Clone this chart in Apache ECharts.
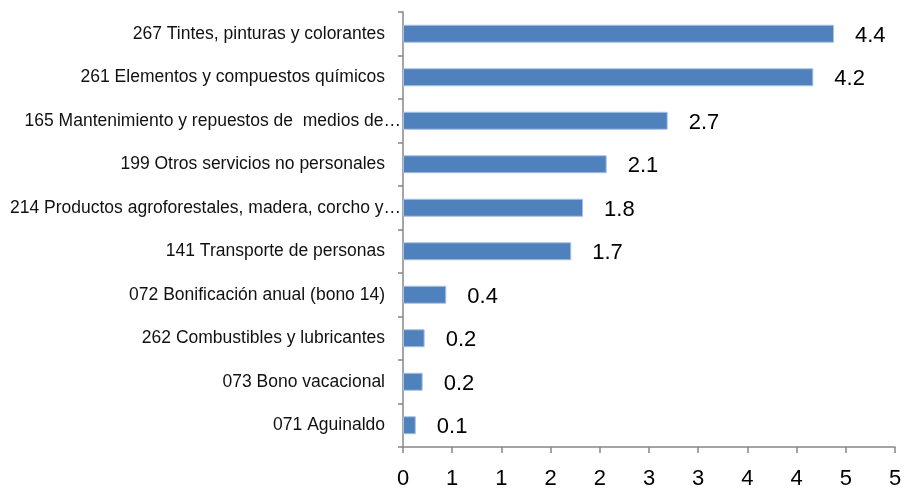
<!DOCTYPE html>
<html lang="es">
<head>
    <meta charset="UTF-8"/>
    <script src="https://cdn.jsdelivr.net/npm/echarts@6/dist/echarts.min.js"></script>
    <title>Renglones</title>
    <style>
        html, body { margin: 0; padding: 0; background: #fff; }
    </style>
</head>
<body>
<div id="main" style="width:904px; height:489px;"></div>
<script type="text/javascript">
    // categorias (de arriba hacia abajo)
    var categories = [
        '267 Tintes, pinturas y colorantes',
        '261 Elementos y compuestos químicos',
        '165 Mantenimiento y repuestos de  medios de…',
        '199 Otros servicios no personales',
        '214 Productos agroforestales, madera, corcho y…',
        '141 Transporte de personas',
        '072 Bonificación anual (bono 14)',
        '262 Combustibles y lubricantes',
        '073 Bono vacacional',
        '071 Aguinaldo'
    ];
    var values = [4.38, 4.17, 2.69, 2.07, 1.83, 1.71, 0.44, 0.22, 0.20, 0.13];
    var xTickLabels = ['0', '1', '1', '2', '2', '3', '3', '4', '4', '5', '5'];

    var font = '"Liberation Sans", Arial, sans-serif';
    var axisGray = '#878787';

    var myChart = echarts.init(document.getElementById('main'));

    var option = {
        animation: false,
        grid: { left: 403, right: 9, top: 12, bottom: 42, containLabel: false, outerBoundsMode: 'none' },
        xAxis: {
            type: 'value',
            min: 0,
            max: 5,
            interval: 0.5,
            splitLine: { show: false },
            axisLine: { show: true, lineStyle: { color: axisGray, width: 1.5 } },
            axisTick: { show: true, length: 6, lineStyle: { color: axisGray, width: 1.5 } },
            axisLabel: {
                margin: 21,
                fontFamily: font,
                fontSize: 22,
                color: '#000',
                formatter: function (v, i) { return xTickLabels[i]; }
            }
        },
        yAxis: {
            type: 'category',
            inverse: true,
            data: categories,
            axisLine: { show: true, lineStyle: { color: axisGray, width: 1.5 } },
            axisTick: { show: true, length: 5, alignWithLabel: false, lineStyle: { color: axisGray, width: 1.5 } },
            axisLabel: {
                margin: 2,
                fontFamily: font,
                fontSize: 17.5,
                color: '#111',
                formatter: function (v) {
                    // las etiquetas cortadas llegan casi hasta el eje
                    return v.slice(-1) === '…' ? '{t|' + v + '}' : '{n|' + v + '}';
                },
                rich: {
                    t: { fontFamily: font, fontSize: 17.5, color: '#111', padding: [0, 0, 0, 0] },
                    n: { fontFamily: font, fontSize: 17.5, color: '#111', padding: [0, 16, 0, 0] }
                }
            }
        },
        series: [
            {
                type: 'bar',
                data: values,
                barWidth: 18,
                itemStyle: { color: '#4F81BD', borderColor: '#a9c2e2', borderWidth: 1 },
                label: {
                    show: true,
                    position: 'right',
                    distance: 21,
                    offset: [0, 2],
                    fontFamily: font,
                    fontSize: 22,
                    color: '#000',
                    formatter: function (p) { return p.value.toFixed(1); }
                }
            }
        ]
    };

    myChart.setOption(option);
</script>
</body>
</html>
